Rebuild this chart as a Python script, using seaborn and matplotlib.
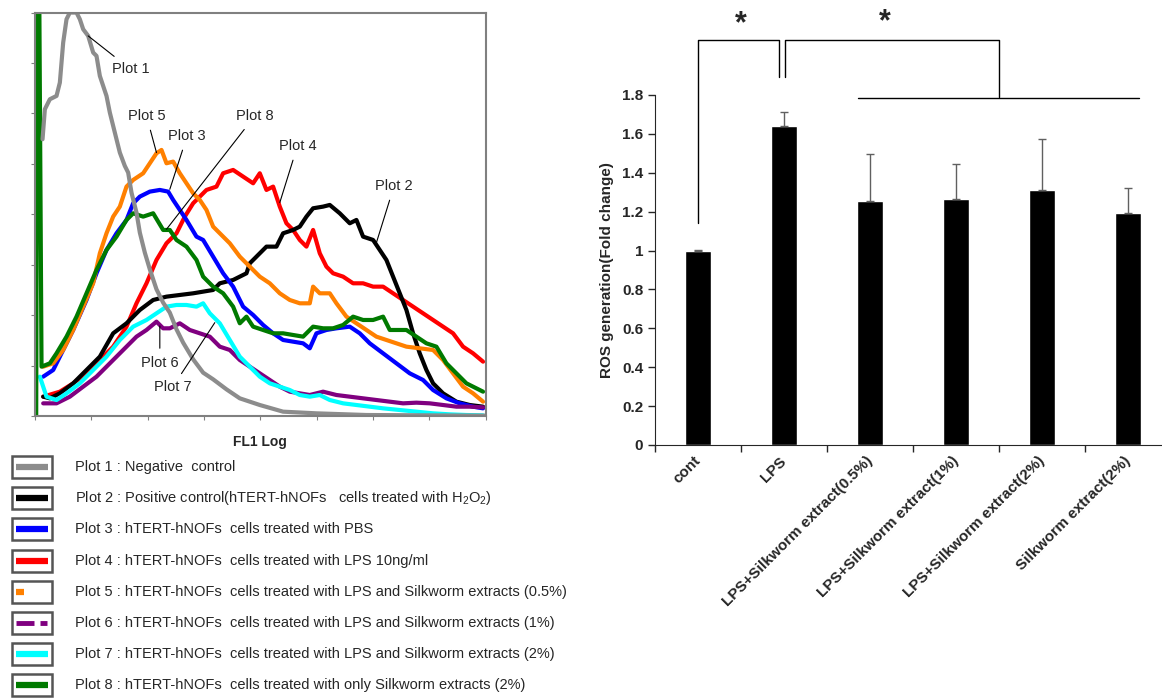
import numpy as np
import matplotlib
matplotlib.use('Agg')
import matplotlib.pyplot as plt
import seaborn as sns
from matplotlib.patches import Rectangle

# ---- FL1 histogram traces (channel, events) ----
p1_x = [23, 30, 45, 65, 75, 85, 95, 105, 125, 135, 145, 160, 175, 185, 195, 205, 215, 225, 240, 255, 270,
        280, 290, 305, 315, 330, 345, 365, 385, 405, 425, 445, 475, 505, 535, 575, 615, 675, 745, 845, 995, 1353]
p1_y = [83, 92, 95, 96, 100, 112, 119, 121, 121, 119, 116, 114, 109, 108, 102, 99, 96, 91, 85, 79, 75,
        73, 67, 61, 55, 49, 44, 38, 34, 31, 26, 22, 17, 13, 11, 8, 5.3, 3.3, 1.3, 0.8, 0.3, 0.1]

p2_x = [25, 45, 75, 115, 155, 195, 235, 275, 315, 355, 395, 435, 475, 505, 535, 555, 595, 635, 645, 665,
        695, 725, 745, 775, 795, 815, 835, 865, 885, 915, 945, 965, 985, 1015, 1035, 1055, 1075, 1095, 1115,
        1135, 1155, 1175, 1195, 1225, 1265, 1305, 1345]
p2_y = [5.8, 5.3, 6.8, 9.8, 13.8, 17.8, 24.8, 27.8, 31.8, 34.8, 35.8, 36.3, 36.8, 37.3, 37.8, 39.8, 40.8,
        42.8, 45.8, 47.8, 50.8, 50.8, 54.8, 55.8, 56.8, 59.8, 62.3, 62.8, 63.3, 60.8, 57.8, 58.8, 53.8, 52.8,
        49.8, 46.8, 41.8, 36.8, 31.8, 24.8, 18.8, 13.8, 9.8, 6.8, 4.3, 3.3, 2.8]

p3_x = [25, 55, 85, 115, 155, 185, 215, 245, 275, 295, 315, 345, 375, 400, 415, 435, 455, 485, 505, 535,
        565, 595, 625, 655, 685, 715, 745, 775, 805, 825, 845, 875, 905, 945, 975, 1005, 1045, 1085, 1125,
        1165, 1195, 1235, 1275, 1315, 1345]
p3_y = [11.8, 13.8, 19.8, 25.8, 34.8, 42.8, 49.8, 54.8, 58.8, 63.8, 65.8, 67.3, 67.8, 67.3, 64.8, 61.8,
        58.8, 53.8, 52.8, 47.8, 42.8, 38.8, 32.8, 30.3, 27.3, 24.8, 22.8, 22.3, 21.8, 20.3, 24.8, 25.8, 26.3,
        26.8, 24.8, 21.8, 18.8, 15.8, 12.8, 10.8, 7.8, 5.3, 3.8, 2.8, 2.3]

p4_x = [25, 75, 115, 155, 195, 235, 275, 305, 335, 365, 395, 425, 450, 475, 495, 515, 545, 565, 595, 625,
        655, 675, 695, 715, 735, 755, 775, 795, 815, 835, 855, 875, 895, 925, 955, 985, 1015, 1045, 1075,
        1105, 1135, 1165, 1195, 1225, 1255, 1285, 1315, 1345]
p4_y = [5.8, 7.3, 9.8, 12.8, 16.8, 20.8, 26.8, 33.8, 39.8, 46.8, 51.8, 54.8, 59.8, 63.8, 65.8, 67.8, 68.8,
        72.8, 73.8, 71.8, 69.8, 72.8, 67.8, 68.8, 62.8, 57.8, 55.8, 52.8, 50.8, 55.8, 48.8, 44.8, 42.8, 41.8,
        39.8, 39.8, 38.8, 38.8, 36.8, 34.8, 32.8, 30.8, 28.8, 26.8, 24.8, 20.8, 18.8, 16.3]

p5_x = [25, 55, 85, 115, 145, 175, 195, 215, 235, 255, 275, 295, 325, 345, 365, 380, 395, 415, 435, 455,
        475, 495, 515, 535, 555, 585, 615, 645, 675, 705, 735, 765, 795, 825, 835, 855, 885, 905, 935, 965,
        995, 1025, 1055, 1085, 1115, 1155, 1195, 1225, 1255, 1285, 1315, 1345]
p5_y = [14.8, 15.8, 19.8, 25.8, 32.8, 39.8, 48.8, 54.8, 59.8, 62.8, 68.8, 70.8, 72.8, 75.8, 78.8, 79.8,
        75.8, 76.3, 72.8, 69.8, 66.8, 64.8, 61.8, 56.8, 54.8, 51.8, 47.8, 44.8, 41.8, 39.8, 36.8, 34.8, 33.8,
        33.8, 38.8, 36.8, 36.8, 33.8, 29.8, 27.8, 25.8, 23.8, 22.8, 21.8, 20.8, 20.3, 19.8, 16.8, 12.8, 8.8,
        6.8, 4.3]

p6_x = [25, 65, 105, 145, 185, 225, 265, 305, 335, 365, 385, 405, 435, 465, 495, 525, 555, 585, 615, 645,
        675, 705, 735, 765, 795, 825, 865, 905, 945, 985, 1025, 1065, 1105, 1145, 1185, 1225, 1265, 1305, 1345]
p6_y = [3.8, 3.8, 5.8, 8.8, 11.8, 15.8, 19.8, 23.8, 25.8, 28.3, 26.3, 26.3, 27.8, 25.8, 24.8, 23.8, 20.8,
        19.8, 16.8, 14.8, 12.8, 10.8, 8.8, 7.3, 6.8, 6.3, 7.3, 6.3, 5.8, 5.3, 4.8, 4.3, 3.8, 4.0, 3.8, 3.3,
        2.8, 2.8, 2.6]

p7_x = [15, 35, 65, 95, 135, 175, 215, 255, 295, 335, 365, 395, 425, 455, 485, 505, 525, 555, 585, 615,
        645, 675, 705, 735, 765, 795, 825, 855, 885, 925, 965, 1005, 1045, 1095, 1145, 1195, 1245, 1295, 1345]
p7_y = [11.8, 5.8, 4.8, 6.8, 9.8, 13.8, 17.8, 22.8, 26.8, 28.8, 30.8, 32.8, 33.3, 33.3, 32.8, 33.8, 30.8,
        27.8, 22.8, 17.8, 14.8, 11.8, 9.8, 8.8, 7.8, 6.3, 5.8, 6.3, 4.8, 3.8, 3.3, 2.8, 2.3, 1.8, 1.3, 0.8,
        0.5, 0.3, 0.2]

p8_x = [4, 7, 13, 20, 45, 65, 95, 125, 155, 185, 215, 245, 275, 295, 325, 355, 385, 405, 425, 455, 485,
        505, 535, 565, 595, 615, 635, 655, 685, 715, 745, 775, 805, 835, 865, 895, 925, 955, 985, 1015, 1045,
        1065, 1095, 1115, 1145, 1175, 1205, 1235, 1265, 1295, 1325, 1345]
p8_y = [0, 130, 130, 14.8, 15.8, 18.8, 23.8, 29.8, 36.8, 43.8, 49.8, 53.8, 58.8, 60.8, 59.8, 60.8, 55.8,
        55.8, 52.8, 50.8, 46.8, 41.8, 38.8, 36.8, 32.8, 27.8, 29.8, 26.8, 25.8, 24.8, 24.8, 24.3, 23.8, 26.8,
        26.3, 26.3, 27.3, 29.8, 28.8, 28.8, 29.8, 25.8, 25.8, 25.8, 23.8, 21.8, 20.8, 15.8, 12.8, 9.8, 8.3, 7.3]

plot_colors = ['#8c8c8c', '#000000', '#0000ff', '#ff0000', '#ff8000', '#800080', '#00ffff', '#007a00']

legend_texts = [
    'Plot 1 : Negative  control',
    'Plot 2 : Positive control(hTERT-hNOFs   cells treated with H$_2$O$_2$)',
    'Plot 3 : hTERT-hNOFs  cells treated with PBS',
    'Plot 4 : hTERT-hNOFs  cells treated with LPS 10ng/ml',
    'Plot 5 : hTERT-hNOFs  cells treated with LPS and Silkworm extracts (0.5%)',
    'Plot 6 : hTERT-hNOFs  cells treated with LPS and Silkworm extracts (1%)',
    'Plot 7 : hTERT-hNOFs  cells treated with LPS and Silkworm extracts (2%)',
    'Plot 8 : hTERT-hNOFs  cells treated with only Silkworm extracts (2%)',
]

# ---- ROS bar chart ----
bar_labels = ['cont', 'LPS', 'LPS+Silkworm extract(0.5%)', 'LPS+Silkworm extract(1%)',
              'LPS+Silkworm extract(2%)', 'Silkworm extract(2%)']
bar_values = [1.0, 1.643, 1.255, 1.265, 1.312, 1.192]
bar_err = [0.003, 0.067, 0.243, 0.182, 0.262, 0.13]

sns.set_style('ticks')
plt.rcParams['font.family'] = ['Liberation Sans', 'DejaVu Sans']
plt.rcParams['mathtext.fontset'] = 'custom'
plt.rcParams['mathtext.rm'] = 'Liberation Sans'
plt.rcParams['mathtext.it'] = 'Liberation Sans:italic'
plt.rcParams['mathtext.bf'] = 'Liberation Sans:bold'

fig = plt.figure(figsize=(11.62, 6.98), dpi=100)

# left: histogram overlay
ax1 = fig.add_axes([0.030, 0.404, 0.388, 0.578])
traces = [(p4_x, p4_y, 3), (p2_x, p2_y, 1), (p3_x, p3_y, 2), (p5_x, p5_y, 4),
          (p6_x, p6_y, 5), (p7_x, p7_y, 6), (p8_x, p8_y, 7), (p1_x, p1_y, 0)]
for xs, ys, ci in traces:
    sns.lineplot(x=xs, y=ys, color=plot_colors[ci], lw=3, estimator=None, sort=False, ax=ax1)

ax1.set_xlim(0, 1353)
ax1.set_ylim(0, 121)
ax1.set_xticks(np.linspace(0, 1353, 9))
ax1.set_yticks(np.linspace(0, 121, 9))
ax1.tick_params(colors='#808080', length=3, direction='out', labelleft=False, labelbottom=False)
for s in ax1.spines.values():
    s.set_color('#808080')
    s.set_linewidth(1.5)
ax1.text(0.5, -0.065, 'FL1 Log', transform=ax1.transAxes, ha='center', va='center',
         fontsize=10, fontweight='bold')

labels = [('Plot 1', (160, 114), (287, 104)),
          ('Plot 5', (365, 79), (335, 90)),
          ('Plot 3', (405, 68), (457, 84)),
          ('Plot 8', (395, 56), (660, 90)),
          ('Plot 4', (735, 64), (788, 81)),
          ('Plot 2', (1025, 52), (1078, 69)),
          ('Plot 6', (375, 27), (375, 16)),
          ('Plot 7', (540, 28), (413, 8.6))]
for txt, xy, xyt in labels:
    ax1.annotate(txt, xy=xy, xytext=xyt, ha='center', va='center', fontsize=10.5,
                 arrowprops=dict(arrowstyle='-', color='black', lw=0.8, shrinkA=3, shrinkB=0))

# legend block drawn in figure pixel space
axl = fig.add_axes([0, 0, 1, 1])
axl.set_xlim(0, 1162)
axl.set_ylim(698, 0)
axl.axis('off')
for i, txt in enumerate(legend_texts):
    yc = 467 + 31.2 * i
    axl.add_patch(Rectangle((12, yc - 11), 40, 22, fill=False, edgecolor='#555555', lw=1.8, clip_on=False))
    c = plot_colors[i]
    if i == 4:
        axl.plot([16, 24], [yc, yc], color=c, lw=4.5, solid_capstyle='butt')
    elif i == 5:
        axl.plot([16, 34], [yc, yc], color=c, lw=3.5, solid_capstyle='butt')
        axl.plot([40, 47], [yc, yc], color=c, lw=3.5, solid_capstyle='butt')
    else:
        axl.plot([16, 48], [yc, yc], color=c, lw=4.5, solid_capstyle='butt', clip_on=False)
    axl.text(75, yc, txt, ha='left', va='center', fontsize=10.5)

# right: bar chart
ax2 = fig.add_axes([0.5637, 0.3625, 0.4441, 0.5014])
sns.barplot(x=bar_labels, y=bar_values, color='black', saturation=1, width=0.31, errorbar=None, ax=ax2)
ax2.errorbar(range(len(bar_values)), bar_values, yerr=[np.zeros(len(bar_err)), bar_err], fmt='none',
             ecolor='#606060', elinewidth=1, capsize=3, capthick=1)
ax2.set_xlim(-0.5, 5.5)
ax2.set_ylim(0, 1.8)
yt = np.round(np.arange(0, 1.81, 0.2), 1)
ax2.set_yticks(yt)
ax2.set_yticklabels([f'{v:g}' for v in yt], fontweight='bold', fontsize=11)
ax2.set_xticks(range(len(bar_labels)))
ax2.set_xticklabels(bar_labels, rotation=45, ha='right', va='center', rotation_mode='anchor',
                    fontweight='bold', fontsize=11)
ax2.set_xticks(np.arange(-0.5, 6, 1), minor=True)
ax2.tick_params(axis='x', which='major', length=0, pad=10)
ax2.tick_params(axis='x', which='minor', length=5, direction='out', width=1)
ax2.tick_params(axis='y', length=5, direction='out', width=1)
ax2.spines['top'].set_visible(False)
ax2.spines['right'].set_visible(False)
ax2.set_ylabel('ROS generation(Fold change)', fontweight='bold', fontsize=11, labelpad=6)
ax2.set_xlabel('')

# significance brackets
top_y = 2.082
drop_y = 1.891
kw = dict(color='black', lw=1, clip_on=False)
ax2.plot([0, 0, 0.94, 0.94], [1.144, top_y, top_y, drop_y], **kw)
ax2.plot([1.01, 1.01, 3.5, 3.5], [drop_y, top_y, top_y, 1.79], **kw)
ax2.plot([1.86, 5.13], [1.783, 1.783], **kw)
ax2.text(0.5, 2.165, '*', ha='center', va='center', fontsize=22, fontweight='bold')
ax2.text(2.17, 2.175, '*', ha='center', va='center', fontsize=22, fontweight='bold')

fig.savefig('out.png', dpi=100)
